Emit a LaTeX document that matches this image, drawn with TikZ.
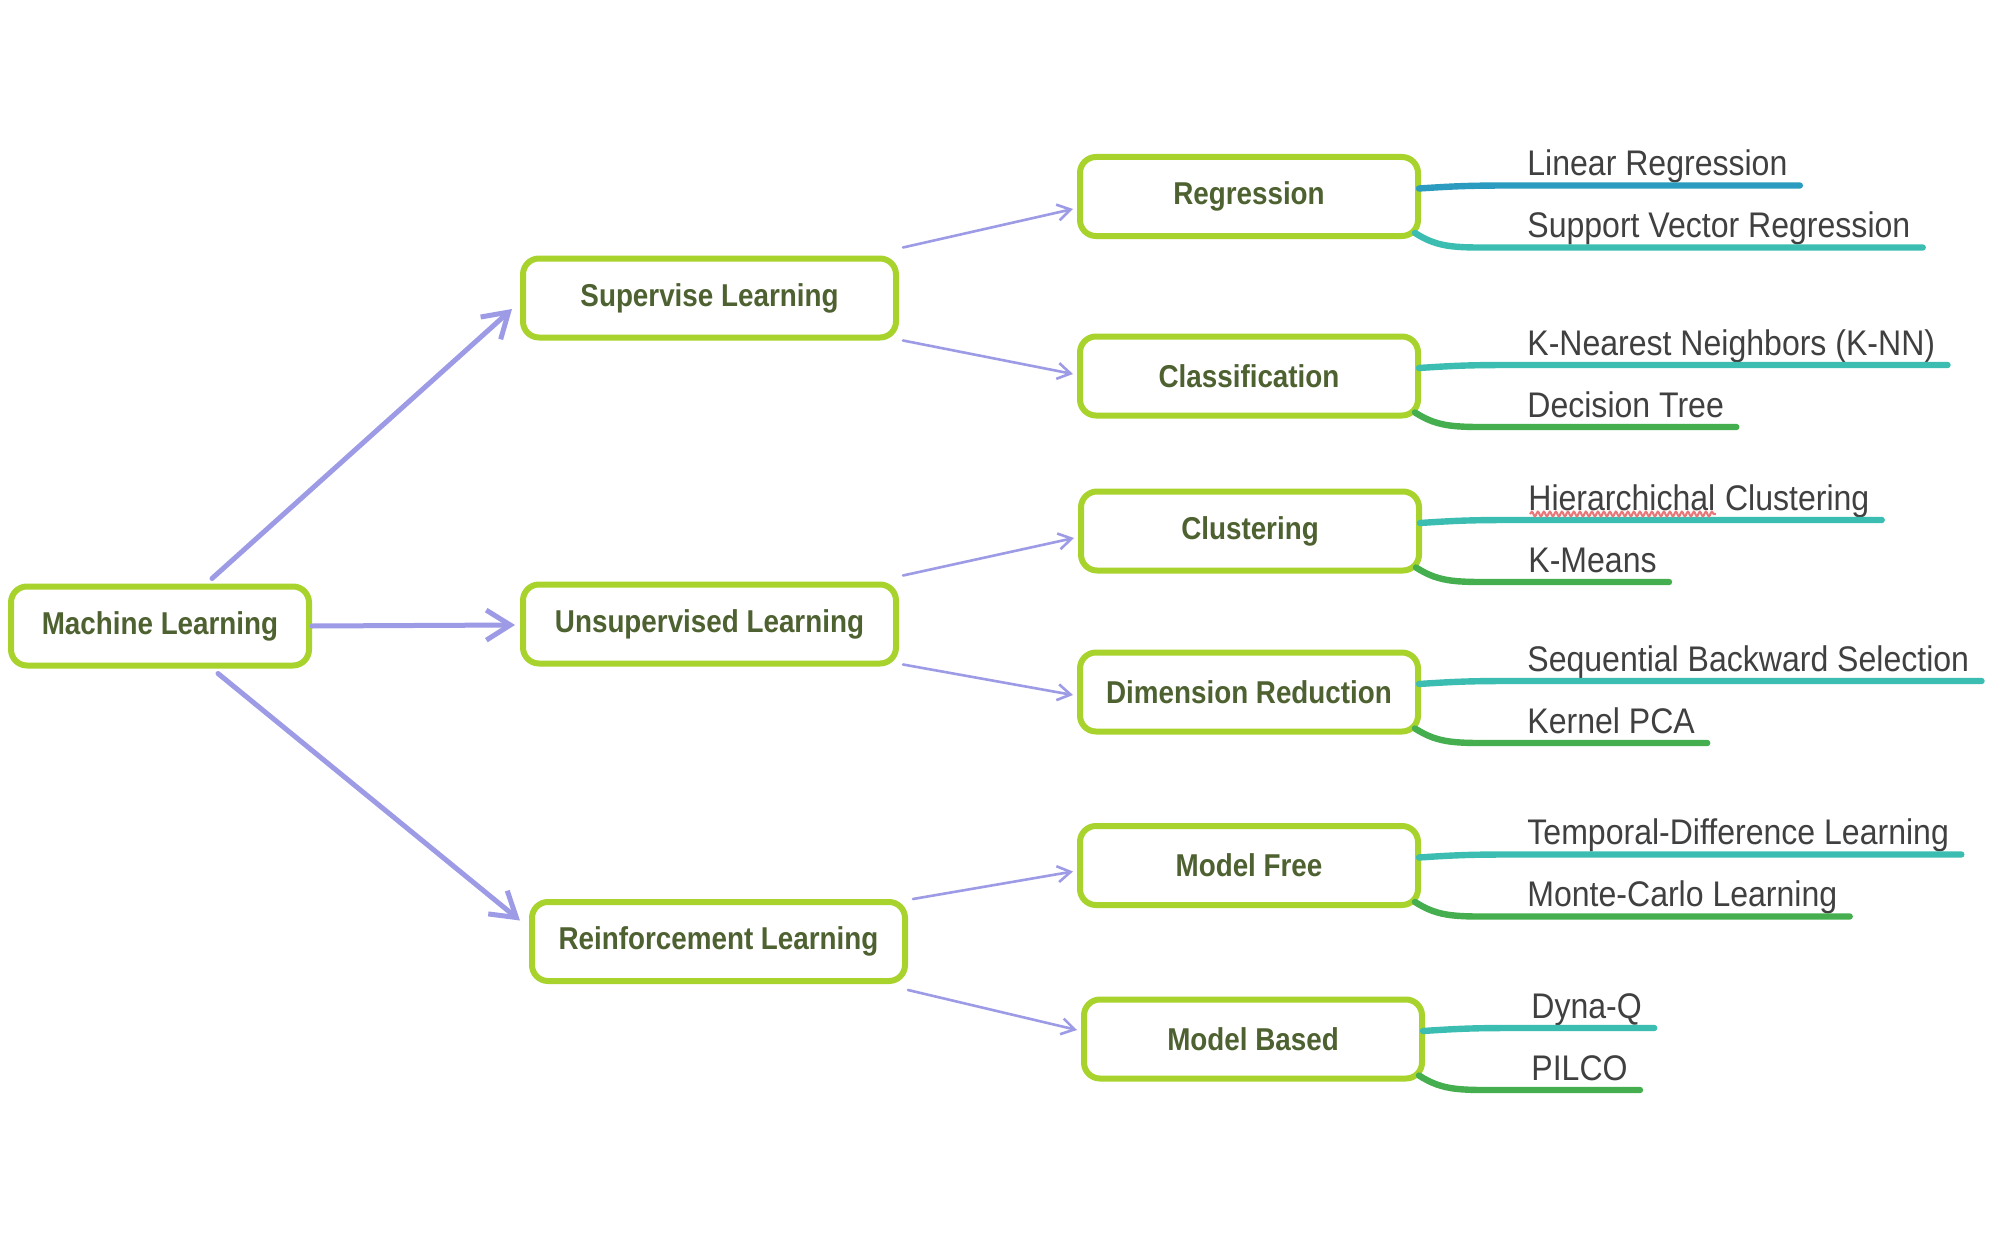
\documentclass[tikz,border=0pt]{standalone}
\usepackage{fontspec}
\setmainfont{Liberation Sans}
\newfontfamily\boxfont[FakeStretch=0.88]{Liberation Sans}
\newfontfamily\leaffont[FakeStretch=0.9]{Liberation Sans}
\usetikzlibrary{arrows.meta,calc,decorations.pathmorphing}
\definecolor{boxgreen}{HTML}{A8D32C}
\definecolor{boxtext}{HTML}{4E6130}
\definecolor{arrowc}{HTML}{9D9BE6}
\definecolor{lblue}{HTML}{2B9CC0}
\definecolor{lteal}{HTML}{3BBDB1}
\definecolor{lgreen}{HTML}{45AE4E}
\definecolor{leaftext}{HTML}{404040}
\definecolor{squig}{HTML}{E8787A}
\tikzset{
  mlbox/.style={draw=boxgreen, line width=3pt, rounded corners=8pt, fill=white,
    minimum width=169pt, minimum height=39.5pt, inner sep=0pt,
    font=\boxfont\bfseries\fontsize{15.8pt}{18pt}\selectfont, text=boxtext},
  bigarrow/.style={draw=arrowc, line width=2.5pt, line cap=round,
    -{Straight Barb[length=12pt,width=15pt]}},
  smallarrow/.style={draw=arrowc, line width=1.3pt, line cap=round,
    -{Straight Barb[length=6.5pt,width=8pt]}},
  leaf/.style={anchor=base west, inner sep=0pt,
    font=\leaffont\fontsize{17.8pt}{20pt}\selectfont, text=leaftext},
  leafline/.style={line width=3.2pt, line cap=round},
}
\begin{document}
\begin{tikzpicture}[x=0.5pt,y=-0.5pt]
\fill[white] (0,0) rectangle (1999,1236);
\path[use as bounding box] (0,0) rectangle (1999,1236);

% boxes
\node[mlbox, minimum width=149pt, minimum height=39.5pt] (ml) at (160,626) {Machine Learning};
\node[mlbox, minimum width=186.5pt] (sl) at (709.5,298) {Supervise Learning};
\node[mlbox, minimum width=186.5pt] (ul) at (709.5,624) {Unsupervised Learning};
\node[mlbox, minimum width=186.5pt] (rl) at (718.5,941.5) {Reinforcement Learning};
\node[mlbox] (reg) at (1249,196.5) {Regression};
\node[mlbox] (cla) at (1249,376) {Classification};
\node[mlbox] (clu) at (1250,531) {Clustering};
\node[mlbox] (dr) at (1249,692) {Dimension Reduction};
\node[mlbox] (mf) at (1249,865.5) {Model Free};
\node[mlbox] (mb) at (1253,1039) {Model Based};

% arrows
\draw[bigarrow] ($(ml.north)+(52,-5)$) -- ($(sl.west)+(-8,11)$);
\draw[bigarrow] (ml.east) -- ($(ul.west)+(-5,1)$);
\draw[bigarrow] ($(ml.south)+(58,5)$) -- ($(rl.west)+(-9,-21)$);
\draw[smallarrow] ($(sl.north east)+(4,-8)$) -- ($(reg.west)+(-4,12.5)$);
\draw[smallarrow] ($(sl.south east)+(4,0)$) -- ($(cla.west)+(-4,-2)$);
\draw[smallarrow] ($(ul.north east)+(4,-6)$) -- ($(clu.west)+(-4,7)$);
\draw[smallarrow] ($(ul.south east)+(4,-2)$) -- ($(dr.west)+(-4,3)$);
\draw[smallarrow] ($(rl.north east)+(5,0)$) -- ($(mf.west)+(-4,6)$);
\draw[smallarrow] ($(rl.south east)+(0,6)$) -- ($(mb.west)+(-4,-9)$);

% leaves
\node[leaf] (lr)   at ($(reg.east)+(106,-21)$) {Linear Regression};
\node[leaf] (svr)  at ($(reg.east)+(106,41)$)  {Support Vector Regression};
\node[leaf] (knn)  at ($(cla.east)+(106,-21)$) {K-Nearest Neighbors (K-NN)};
\node[leaf] (dt)   at ($(cla.east)+(106,41)$)  {Decision Tree};
\node[leaf] (hcw)  at ($(clu.east)+(106,-21)$) {Hierarchichal};
\node[leaf] (hc)   at ($(hcw.base east)+(8.9,0)$) {Clustering};
\node[leaf] (km)   at ($(clu.east)+(106,41)$)  {K-Means};
\node[leaf] (sbs)  at ($(dr.east)+(106,-21)$)  {Sequential Backward Selection};
\node[leaf] (kpca) at ($(dr.east)+(106,41)$)   {Kernel PCA};
\node[leaf] (td)   at ($(mf.east)+(106,-21)$)  {Temporal-Difference Learning};
\node[leaf] (mc)   at ($(mf.east)+(106,41)$)   {Monte-Carlo Learning};
\node[leaf] (dq)   at ($(mb.east)+(106,-21)$)  {Dyna-Q};
\node[leaf] (pil)  at ($(mb.east)+(106,41)$)   {PILCO};

% leaf lines
\foreach \b/\t/\e/\c in {reg/lr/lr/lblue, cla/knn/knn/lteal, clu/hcw/hc/lteal, dr/sbs/sbs/lteal, mf/td/td/lteal, mb/dq/dq/lteal}{
  \draw[leafline, \c] ($(\b.east)+(-2,-8)$) .. controls +(45,-3) and +(-50,0) .. ($(\t.base west)+(0,10)$) -- ($(\e.base east)+(12,10)$);
}
\foreach \b/\t/\c in {reg/svr/lteal, cla/dt/lgreen, clu/km/lgreen, dr/kpca/lgreen, mf/mc/lgreen, mb/pil/lgreen}{
  \draw[leafline, \c] ($(\b.south east)+(-6,-6)$) .. controls +(25,16) and +(-50,0) .. ($(\t.base west)+(-20,10)$) -- ($(\t.base east)+(12,10)$);
}

% spell-check squiggle
\draw[squig, line width=1.1pt, decorate, decoration={snake, amplitude=1.1pt, segment length=3pt}]
  ($(hcw.base west)+(2,4)$) -- ($(hcw.base east)+(0,4)$);
\end{tikzpicture}
\end{document}
